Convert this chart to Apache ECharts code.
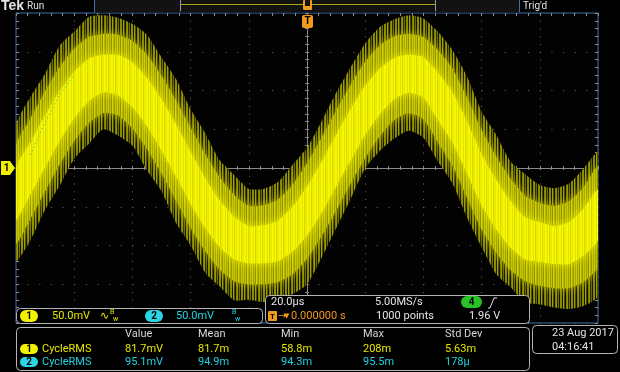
<!DOCTYPE html>
<html><head><meta charset="utf-8">
<script src="https://cdn.jsdelivr.net/npm/echarts@6/dist/echarts.min.js"></script>
<style>html,body{margin:0;padding:0;background:#000;}#c{width:620px;height:372px;}</style>
</head><body><div id="c"></div>
<script>
// ---- data (time in µs, voltage in mV, 20 µs/div, 50 mV/div) ----
const timeUs = [-100,-95,-90,-85,-80,-75,-70,-65,-60,-55,-50,-45,-40,-35,-30,-25,-20,-15,-10,-5,0,5,10,15,20,25,30,35,40,45,50,55,60,65,70,75,80,85,90,95,100];
const outerTop = [55,92,122,158,176,195,197,194,186,172,143,115,76,45,10,-9,-27,-27,-18,4,26,60,97,130,161,182,192,197,193,176,152,118,73,43,8,-8,-22,-26,-20,-1,20];
const outerBottom = [-120,-93,-54,-23,12,31,50,42,29,-3,-30,-71,-100,-135,-153,-171,-170,-173,-170,-163,-150,-116,-78,-40,0,22,38,48,39,8,-20,-64,-102,-137,-154,-174,-176,-180,-182,-178,-165];
const midTop = [29,64,99,130,154,169,173,172,164,146,119,87,52,18,-12,-35,-49,-48,-41,-22,6,39,74,107,137,158,170,173,169,152,128,91,49,15,-14,-36,-45,-49,-43,-25,2];
const midBottom = [-97,-65,-30,5,35,58,71,68,51,25,-7,-42,-77,-107,-131,-146,-150,-150,-147,-137,-117,-88,-55,-20,13,41,62,71,63,33,3,-38,-79,-109,-132,-146,-152,-155,-155,-147,-127];
const coreTop = [1,33,68,99,124,141,146,146,136,116,89,56,21,-13,-42,-63,-75,-74,-68,-50,-24,8,43,76,106,128,142,146,143,123,98,60,18,-15,-43,-64,-70,-75,-70,-53,-28];
const coreBottom = [-67,-34,1,35,64,86,98,94,79,54,23,-11,-46,-77,-102,-118,-123,-123,-120,-108,-87,-58,-24,10,43,69,89,97,91,62,33,-7,-48,-79,-103,-118,-121,-124,-124,-113,-93];
// channel 2 trace: only the part that shows past the channel 1 band
const ch2Visible = [null,17,59,95,120,null,null,null,null,null,null,null,null,null,null,null,null,null,null,null,null,null,null,null,null,null,null,null,null,null,null,null,null,null,null,null,null,null,null,null,null];

const measHeaders = ['Value','Mean','Min','Max','Std Dev'];
const ch1Meas = ['81.7mV','81.7m','58.8m','208m','5.63m'];
const ch2Meas = ['95.1mV','94.9m','94.3m','95.5m','178µ'];
const measName = 'CycleRMS';
const ch1Scale = '50.0mV';
const ch2Scale = '50.0mV';
const timeScale = '20.0µs';
const sampleRate = '5.00MS/s';
const recordLen = '1000 points';
const trigLevel = '1.96 V';
const trigPos = '0.000000 s';
const dateText = '23 Aug 2017';
const timeText = '04:16:41';

// ---- styles ----
const YEL = '#e6e600', CYN = '#22d2e2', WHT = '#e4e4e4', ORG = '#f29a1c', BOX = '#b4b4b4', BLUE = '#3f6fa8';
const FONT = '11px Roboto';

function stripes(cols){
  const cv = document.createElement('canvas');
  cv.width = cols.length; cv.height = 4;
  const ctx = cv.getContext('2d');
  cols.forEach((c,i)=>{ctx.fillStyle=c; ctx.fillRect(i,0,1,4);});
  return {image: cv, repeat: 'repeat'};
}
const outerFill = stripes(['#8a8a00','#161600','#a0a000','#4a4a00','#0c0c00','#7e7e00','#969600','#2a2a00','#6c6c00','#121200','#8c8c00']);
const midFill = stripes(['#cccc00','#a0a000','#c2c200','#8e8e00','#d4d400','#b4b400','#9a9a00','#c8c800','#aaaa00']);
const coreFill = stripes(['#f6f600','#e2e200','#fcfc00','#d6d600','#eeee00','#e8e800','#f8f800']);

function band(top, bottom, fill, z, blur, glow){
  return {
    type:'custom', coordinateSystem:'cartesian2d', xAxisIndex:0, yAxisIndex:0, z:z, silent:true, clip:true,
    data:[[timeUs[0], top[0]]],
    renderItem:function(params, api){
      const pts=[];
      for(let i=0;i<timeUs.length;i++) pts.push(api.coord([timeUs[i], top[i]]));
      for(let i=timeUs.length-1;i>=0;i--) pts.push(api.coord([timeUs[i], bottom[i]]));
      return {type:'polygon', shape:{points:pts, smooth:0.2},
        style:{fill:fill, shadowBlur:blur, shadowColor:glow}};
    }
  };
}

const tickCol = '#8a8a8a';
function xAx(extra){
  return Object.assign({type:'value', min:-100, max:100, interval:20,
    axisLabel:{show:false}, splitLine:{show:false}}, extra);
}
function yAx(extra){
  return Object.assign({type:'value', min:-200, max:200, interval:50,
    axisLabel:{show:false}, splitLine:{show:false}}, extra);
}
const tk = (inside,len)=>({show:true, inside:inside, length:len, lineStyle:{color:tickCol}});
const mtk = (len)=>({show:true, splitNumber:5, length:len, lineStyle:{color:tickCol}});

// ---- graphics helpers ----
const G = [];
function T(x,y,s,fill,opt){
  opt = opt||{};
  G.push({type:'text', x:x, y:y, z:120, silent:true,
    style:{text:s, fill:fill, font:opt.font||FONT, align:opt.align||'left', verticalAlign:'middle'}});
}
function R(x,y,w,h,r,fill,stroke,z){
  G.push({type:'rect', z:z||100, silent:true, shape:{x:x,y:y,width:w,height:h,r:r},
    style:{fill:fill, stroke:stroke||null, lineWidth:1}});
}
function L(pts,stroke,z){
  G.push({type:'polyline', z:z||110, silent:true, shape:{points:pts}, style:{stroke:stroke, lineWidth:1, fill:null}});
}
function pill(x,y,w,h,fill,s){
  R(x,y,w,h,h/2,fill,null,115);
  T(x+w/2,y+h/2+0.5,s,'#000',{font:'bold 10px Roboto',align:'center'});
}

// top bar
T(1,6,'Tek',WHT,{font:'bold 14px "Liberation Sans"'});
T(27,6,'Run',WHT,{font:'10px Roboto'});
R(94.5,-1,425,13.5,0,'#121212',null,100);
L([[94.5,0],[94.5,12.5]],BLUE);
L([[519.5,0],[519.5,12.5]],BLUE);
L([[180.5,0],[180.5,11.5]],'#9a9a9a');
L([[435.5,0],[435.5,11.5]],'#9a9a9a');
L([[181,4.5],[435,4.5]],'#a8a814');
T(523,6,"Trig'd",WHT,{font:'10px Roboto'});
// trigger markers
R(303,0,9,10,1,ORG,null,112);
R(305,0,5,6,0,'#121212',null,113);
R(302,15,11,13,2,ORG,null,112);
T(307.5,21.5,'T','#000',{font:'bold 10px Roboto',align:'center'});
// ch1 ground marker
G.push({type:'polygon', z:112, silent:true, shape:{points:[[1,161],[10,161],[15,168],[10,175],[1,175]]}, style:{fill:'#f0f000'}});
T(6.5,168.5,'1','#000',{font:'bold 10px Roboto',align:'center'});

// channel readout box
R(16.5,308.5,246,15,4,'#000',BOX,100);
pill(20,310,18,12,'#f2f200','1');
T(52,316.5,ch1Scale,YEL);
T(100,316,'∿',YEL,{font:'11px "DejaVu Sans"'});
T(110,312.5,'B',YEL,{font:'7px Roboto'});
T(113,319,'w',YEL,{font:'7px Roboto'});
pill(145,310,18,12,'#2ad4e4','2');
T(176,316.5,ch2Scale,CYN);
T(232,312.5,'B',CYN,{font:'7px Roboto'});
T(235,319,'w',CYN,{font:'7px Roboto'});

// timebase / trigger box
R(265.5,295.5,264,28,4,'#000',BOX,100);
T(271,302.5,timeScale,WHT);
R(268,311,9,10,1,ORG,null,112);
T(272.5,316.5,'T','#000',{font:'bold 8px Roboto',align:'center'});
T(278,316.5,'→',ORG,{font:'10px "DejaVu Sans"'});
T(284,316.5,'▼',ORG,{font:'7px "DejaVu Sans"'});
T(291,316.5,trigPos,ORG);
T(375,302.5,sampleRate,WHT);
T(376,316.5,recordLen,WHT);
pill(461,296,21,12,'#26c226','4');
L([[488,308],[490,308],[494,298],[497,298]],WHT,115);
T(469,316.5,trigLevel,WHT);

// measurement box
R(16.5,327.5,513,43,4,'#000',BOX,100);
const colX = [125,198,281,363,445];
measHeaders.forEach((h,i)=>T(colX[i],334.5,h,'#d6d6d6'));
pill(20,344,18,10,'#f2f200','1');
T(42,349.5,measName,YEL);
ch1Meas.forEach((v,i)=>T(colX[i],349.5,v,YEL));
pill(20,357,18,10,'#2ad4e4','2');
T(42,362.5,measName,CYN);
ch2Meas.forEach((v,i)=>T(colX[i],362.5,v,CYN));

// date box
R(532.5,325.5,85,28,4,'#000',BOX,100);
T(552,333,dateText,WHT);
T(552,347,timeText,WHT);

const chart = echarts.init(document.getElementById('c'), null, {renderer:'canvas'});
chart.setOption({
  backgroundColor:'#000',
  animation:false,
  grid:{left:16, top:13, width:582, height:310, show:true, borderColor:BLUE, borderWidth:1, backgroundColor:'#020202'},
  xAxis:[
    xAx({axisLine:{show:true,onZero:true,lineStyle:{color:tickCol}}, axisTick:tk(false,2), minorTick:mtk(2),
         splitLine:{show:true,lineStyle:{color:'#6a6a6a',type:[1,6.75]}}}),
    xAx({position:'bottom', axisLine:{show:false,onZero:true}, axisTick:tk(true,2), minorTick:mtk(2)}),
    xAx({position:'top', axisLine:{show:false,onZero:false}, axisTick:tk(true,3), minorTick:mtk(3)})
  ],
  yAxis:[
    yAx({axisLine:{show:true,onZero:true,lineStyle:{color:tickCol}}, axisTick:tk(false,2), minorTick:mtk(2),
         splitLine:{show:true,lineStyle:{color:'#6a6a6a',type:[1,10.64]}}}),
    yAx({position:'left', axisLine:{show:false,onZero:true}, axisTick:tk(true,2), minorTick:mtk(2)}),
    yAx({position:'right', axisLine:{show:false,onZero:false}, axisTick:tk(true,3), minorTick:mtk(3)}),
    yAx({position:'left', axisLine:{show:false,onZero:false}, axisTick:tk(true,3), minorTick:mtk(3)})
  ],
  series:[
    band(outerTop, outerBottom, outerFill, 3, 0, null),
    band(midTop, midBottom, midFill, 4, 8, 'rgba(190,190,0,0.9)'),
    band(coreTop, coreBottom, coreFill, 5, 10, 'rgba(240,240,0,0.9)'),
    {type:'line', xAxisIndex:0, yAxisIndex:0, z:6, silent:true, showSymbol:false, connectNulls:false,
     data: timeUs.map((t,i)=>[t, ch2Visible[i]]),
     lineStyle:{color:'#1fb8c8', width:1, type:[1,3]}}
  ],
  graphic:{elements:G}
});
</script></body></html>
